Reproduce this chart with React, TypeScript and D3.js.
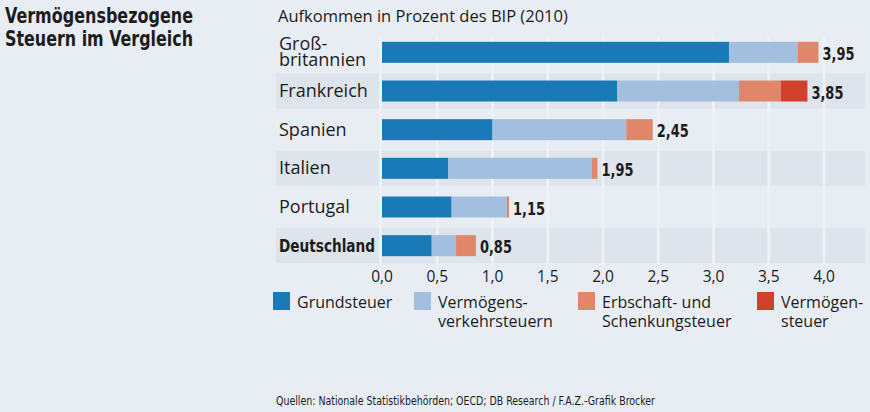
import * as d3 from "d3";
import { useEffect, useRef } from "react";

const countries = ["Großbritannien", "Frankreich", "Spanien", "Italien", "Portugal", "Deutschland"];
const countryLines = [["Groß-", "britannien"], ["Frankreich"], ["Spanien"], ["Italien"], ["Portugal"], ["Deutschland"]];
const grundsteuer = [3.14, 2.13, 1.0, 0.6, 0.63, 0.45];
const verkehrsteuern = [0.62, 1.1, 1.21, 1.3, 0.5, 0.22];
const erbschaft = [0.19, 0.38, 0.24, 0.05, 0.02, 0.18];
const vermoegensteuer = [0, 0.24, 0, 0, 0, 0];
const totals = ["3,95", "3,85", "2,45", "1,95", "1,15", "0,85"];
const xTicks = [0, 0.5, 1, 1.5, 2, 2.5, 3, 3.5, 4];
const seriesNames = [["Grundsteuer"], ["Vermögens-", "verkehrsteuern"], ["Erbschaft- und", "Schenkungsteuer"], ["Vermögen-", "steuer"]];
const seriesColors = ["#1a7ab8", "#a3bfdf", "#e0876a", "#d0402b"];

const W = 870;
const H = 412;
const BG = "#e8edf4";
const TEXT = "#1c1c1c";
const SANS = "'Open Sans', 'Noto Sans', sans-serif";
const NARROW = "'DejaVu Sans Condensed', 'DejaVu Sans', sans-serif";

export default function App() {
  const ref = useRef<SVGSVGElement | null>(null);

  useEffect(() => {
    const el = ref.current;
    if (!el) return;
    const svg = d3.select(el);
    svg.selectAll("*").remove();

    svg.append("rect").attr("width", W).attr("height", H).attr("fill", BG);

    const x = d3.scaleLinear().domain([0, 4]).range([382, 824]);
    const y = d3.scaleBand<string>().domain(countries).range([33, 265]);
    const step = y.step();
    const plotRight = 865;

    // alternating row bands
    svg
      .append("g")
      .selectAll("rect")
      .data(countries.filter((_, i) => i % 2 === 1))
      .enter()
      .append("rect")
      .attr("x", 276)
      .attr("width", plotRight - 276)
      .attr("y", (d) => (y(d) ?? 0) + step / 2 - 17.5)
      .attr("height", 35)
      .attr("fill", "#dde4ec");

    // grid gaps
    svg
      .append("g")
      .selectAll("line")
      .data(xTicks)
      .enter()
      .append("line")
      .attr("x1", (d) => x(d) - (d === 0 ? 1.5 : 0))
      .attr("x2", (d) => x(d) - (d === 0 ? 1.5 : 0))
      .attr("y1", 36)
      .attr("y2", 265)
      .attr("stroke", "#eef2f7")
      .attr("stroke-width", 3);

    // stacked bars
    const table = countries.map((c, i) => ({
      c,
      vals: [grundsteuer[i], verkehrsteuern[i], erbschaft[i], vermoegensteuer[i]],
    }));
    const bars = svg.append("g");
    table.forEach((row, i) => {
      let acc = 0;
      const cy = (y(row.c) ?? 0) + step / 2;
      row.vals.forEach((v, k) => {
        if (v <= 0) return;
        bars
          .append("rect")
          .attr("x", x(acc))
          .attr("width", x(acc + v) - x(acc))
          .attr("y", cy - 10.5)
          .attr("height", 21)
          .attr("fill", seriesColors[k]);
        acc += v;
      });
      svg
        .append("text")
        .attr("x", x(acc) + 4)
        .attr("y", cy + 7.5)
        .attr("fill", TEXT)
        .attr("font-family", NARROW)
        .attr("font-weight", 700)
        .attr("font-size", 18)
        .attr("textLength", 32)
        .attr("lengthAdjust", "spacingAndGlyphs")
        .text(totals[i]);

      const lines = countryLines[i];
      const isDe = row.c === "Deutschland";
      const t = svg
        .append("text")
        .attr("fill", TEXT)
        .attr("font-family", isDe ? NARROW : SANS)
        .attr("font-size", 18)
        .attr("font-weight", isDe ? 700 : 400);
      lines.forEach((ln, j) => {
        const ts = t
          .append("tspan")
          .attr("x", 279)
          .attr("y", cy + 6 + (j - (lines.length - 1) / 2) * 16)
          .text(ln);
        if (isDe) ts.attr("textLength", 96).attr("lengthAdjust", "spacingAndGlyphs");
      });
    });

    // x axis labels
    svg
      .append("g")
      .selectAll("text")
      .data(xTicks)
      .enter()
      .append("text")
      .attr("x", (d) => x(d))
      .attr("y", 282)
      .attr("text-anchor", "middle")
      .attr("fill", TEXT)
      .attr("font-family", SANS)
      .attr("font-size", 15.5)
      .text((d) => d3.format(".1f")(d).replace(".", ","));

    // legend
    const legendX = [273, 414, 578, 757];
    seriesNames.forEach((names, k) => {
      svg
        .append("rect")
        .attr("x", legendX[k])
        .attr("y", 292)
        .attr("width", 17)
        .attr("height", 18)
        .attr("fill", seriesColors[k]);
      const t = svg
        .append("text")
        .attr("fill", TEXT)
        .attr("font-family", SANS)
        .attr("font-size", 16);
      names.forEach((n, j) => {
        t.append("tspan")
          .attr("x", legendX[k] + 24)
          .attr("y", 308 + j * 18.5)
          .text(n);
      });
    });

    // title
    const title = svg
      .append("text")
      .attr("fill", TEXT)
      .attr("font-family", NARROW)
      .attr("font-weight", 700)
      .attr("font-size", 21);
    title.append("tspan").attr("x", 5).attr("y", 23).attr("textLength", 188).attr("lengthAdjust", "spacingAndGlyphs").text("Vermögensbezogene");
    title.append("tspan").attr("x", 5).attr("y", 46).attr("textLength", 188).attr("lengthAdjust", "spacingAndGlyphs").text("Steuern im Vergleich");

    svg
      .append("text")
      .attr("x", 278)
      .attr("y", 22)
      .attr("fill", TEXT)
      .attr("font-family", SANS)
      .attr("font-size", 16.5)
      .text("Aufkommen in Prozent des BIP (2010)");

    svg
      .append("text")
      .attr("x", 276)
      .attr("y", 405)
      .attr("fill", TEXT)
      .attr("font-family", NARROW)
      .attr("font-size", 12)
      .attr("textLength", 379)
      .attr("lengthAdjust", "spacingAndGlyphs")
      .text("Quellen: Nationale Statistikbehörden; OECD; DB Research / F.A.Z.-Grafik Brocker");
  }, []);

  return (
    <svg
      ref={ref}
      width={W}
      height={H}
      viewBox={`0 0 ${W} ${H}`}
      style={{ position: "absolute", left: 0, top: 0, display: "block" }}
    />
  );
}
